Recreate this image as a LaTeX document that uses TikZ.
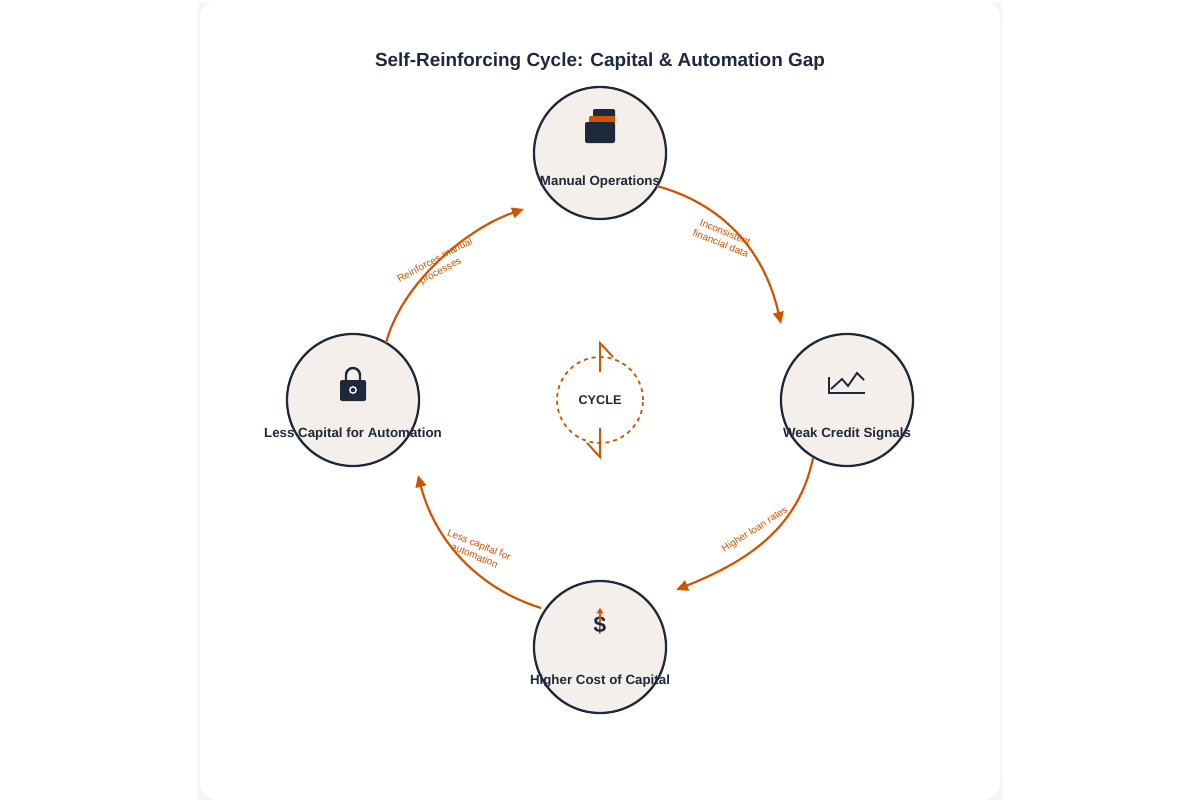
\documentclass[tikz,border=0pt]{standalone}
\usepackage{fontspec}
\setmainfont{Liberation Sans}
\usetikzlibrary{arrows.meta,positioning}
\definecolor{darknavy}{RGB}{30,41,59}
\definecolor{burnt}{RGB}{208,84,0}
\definecolor{cream}{RGB}{244,239,235}
\begin{document}
\begin{tikzpicture}[x=0.75pt,y=-0.75pt,
        stage/.style={circle, draw=darknavy, line width=1.7pt, fill=cream, minimum size=132*0.75pt, inner sep=0pt},
        stagetext/.style={font=\bfseries\fontsize{10}{12}\selectfont, text=darknavy},
        flow/.style={draw=burnt, line width=1.6pt, -{Triangle[length=9pt,width=8pt]}},
        flowtext/.style={font=\fontsize{7.5}{9}\selectfont, text=burnt, align=center}
    ]
        \useasboundingbox (0,0) rectangle (1200,800);
        % Card
        \fill[black!4] (198,2) rectangle (1002,800);
        \fill[white, rounded corners=14pt] (200,0) rectangle (1000,800);
        \node[font=\bfseries\fontsize{14.2}{16}\selectfont, text=darknavy] (title) at (600,62) {Self-Reinforcing Cycle: Capital \& Automation Gap};

        % Stages
        \node[stage] (manual) at (600,153) {};
        \node[stage] (weak) at (847,400) {};
        \node[stage] (higher) at (600,647) {};
        \node[stage] (less) at (353,400) {};
        \node[stagetext] (manuallbl) at (600,182) {Manual Operations};
        \node[stagetext] (weaklbl) at (847,434) {Weak Credit Signals};
        \node[stagetext] (higherlbl) at (600,681) {Higher Cost of Capital};
        \node[stagetext] (lesslbl) at (353,434) {Less Capital for Automation};

        % Icons
        \fill[darknavy, rounded corners=1pt] (593,109) rectangle (615,118);
        \fill[burnt, rounded corners=1pt] (589,116) rectangle (615,124);
        \fill[darknavy, rounded corners=1.5pt] (585,122) rectangle (615,143);
        \draw[darknavy, line width=1.8pt] (346,381) -- (346,375) arc (180:360:7) -- (360,381);
        \fill[darknavy, rounded corners=1.5pt] (340,380) rectangle (366,401);
        \draw[white, line width=1pt] (353,390) circle (3.2);
        \draw[darknavy, line width=1.4pt] (829,377) -- (829,393) -- (865,393);
        \draw[darknavy, line width=1.4pt] (831,389) -- (842,379) -- (848,386) -- (857,373) -- (864,380);
        \node[font=\bfseries\fontsize{17}{18}\selectfont, text=darknavy] (dollar) at (600,625) {\$};
        \draw[burnt, line width=1.3pt, -{Triangle[length=4pt,width=5pt]}] (600,622) -- (600,608);

        % Connectors
        \coordinate (a1) at (657,186); \coordinate (a2) at (781,324);
        \coordinate (b1) at (813,458); \coordinate (b2) at (676,590);
        \coordinate (c1) at (541,608); \coordinate (c2) at (418,475);
        \coordinate (d1) at (386,343); \coordinate (d2) at (524,209);
        \draw[flow] (a1) .. controls (750,212) and (772,285) .. (a2);
        \draw[flow] (b1) .. controls (798,530) and (745,562) .. (b2);
        \draw[flow] (c1) .. controls (468,585) and (432,530) .. (c2);
        \draw[flow] (d1) .. controls (402,282) and (468,228) .. (d2);
        \node[flowtext, rotate=-22] (albl) at (723,238) {Inconsistent\\financial data};
        \node[flowtext, rotate=33] (blbl) at (755,530) {Higher loan rates};
        \node[flowtext, rotate=-22] (clbl) at (477,550) {Less capital for\\automation};
        \node[flowtext, rotate=28] (dlbl) at (438,266) {Reinforces manual\\processes};

        % Center
        \node[circle, draw=burnt, dashed, line width=1.3pt, minimum size=86*0.75pt, inner sep=0pt,
              font=\bfseries\fontsize{9.5}{11}\selectfont, text=darknavy] (cycle) at (600,400) {CYCLE};
        \draw[burnt, line width=1.4pt] (600,372) -- (600,343) -- (613,357);
        \draw[burnt, line width=1.4pt] (600,428) -- (600,457) -- (587,443);
\end{tikzpicture}
\end{document}
